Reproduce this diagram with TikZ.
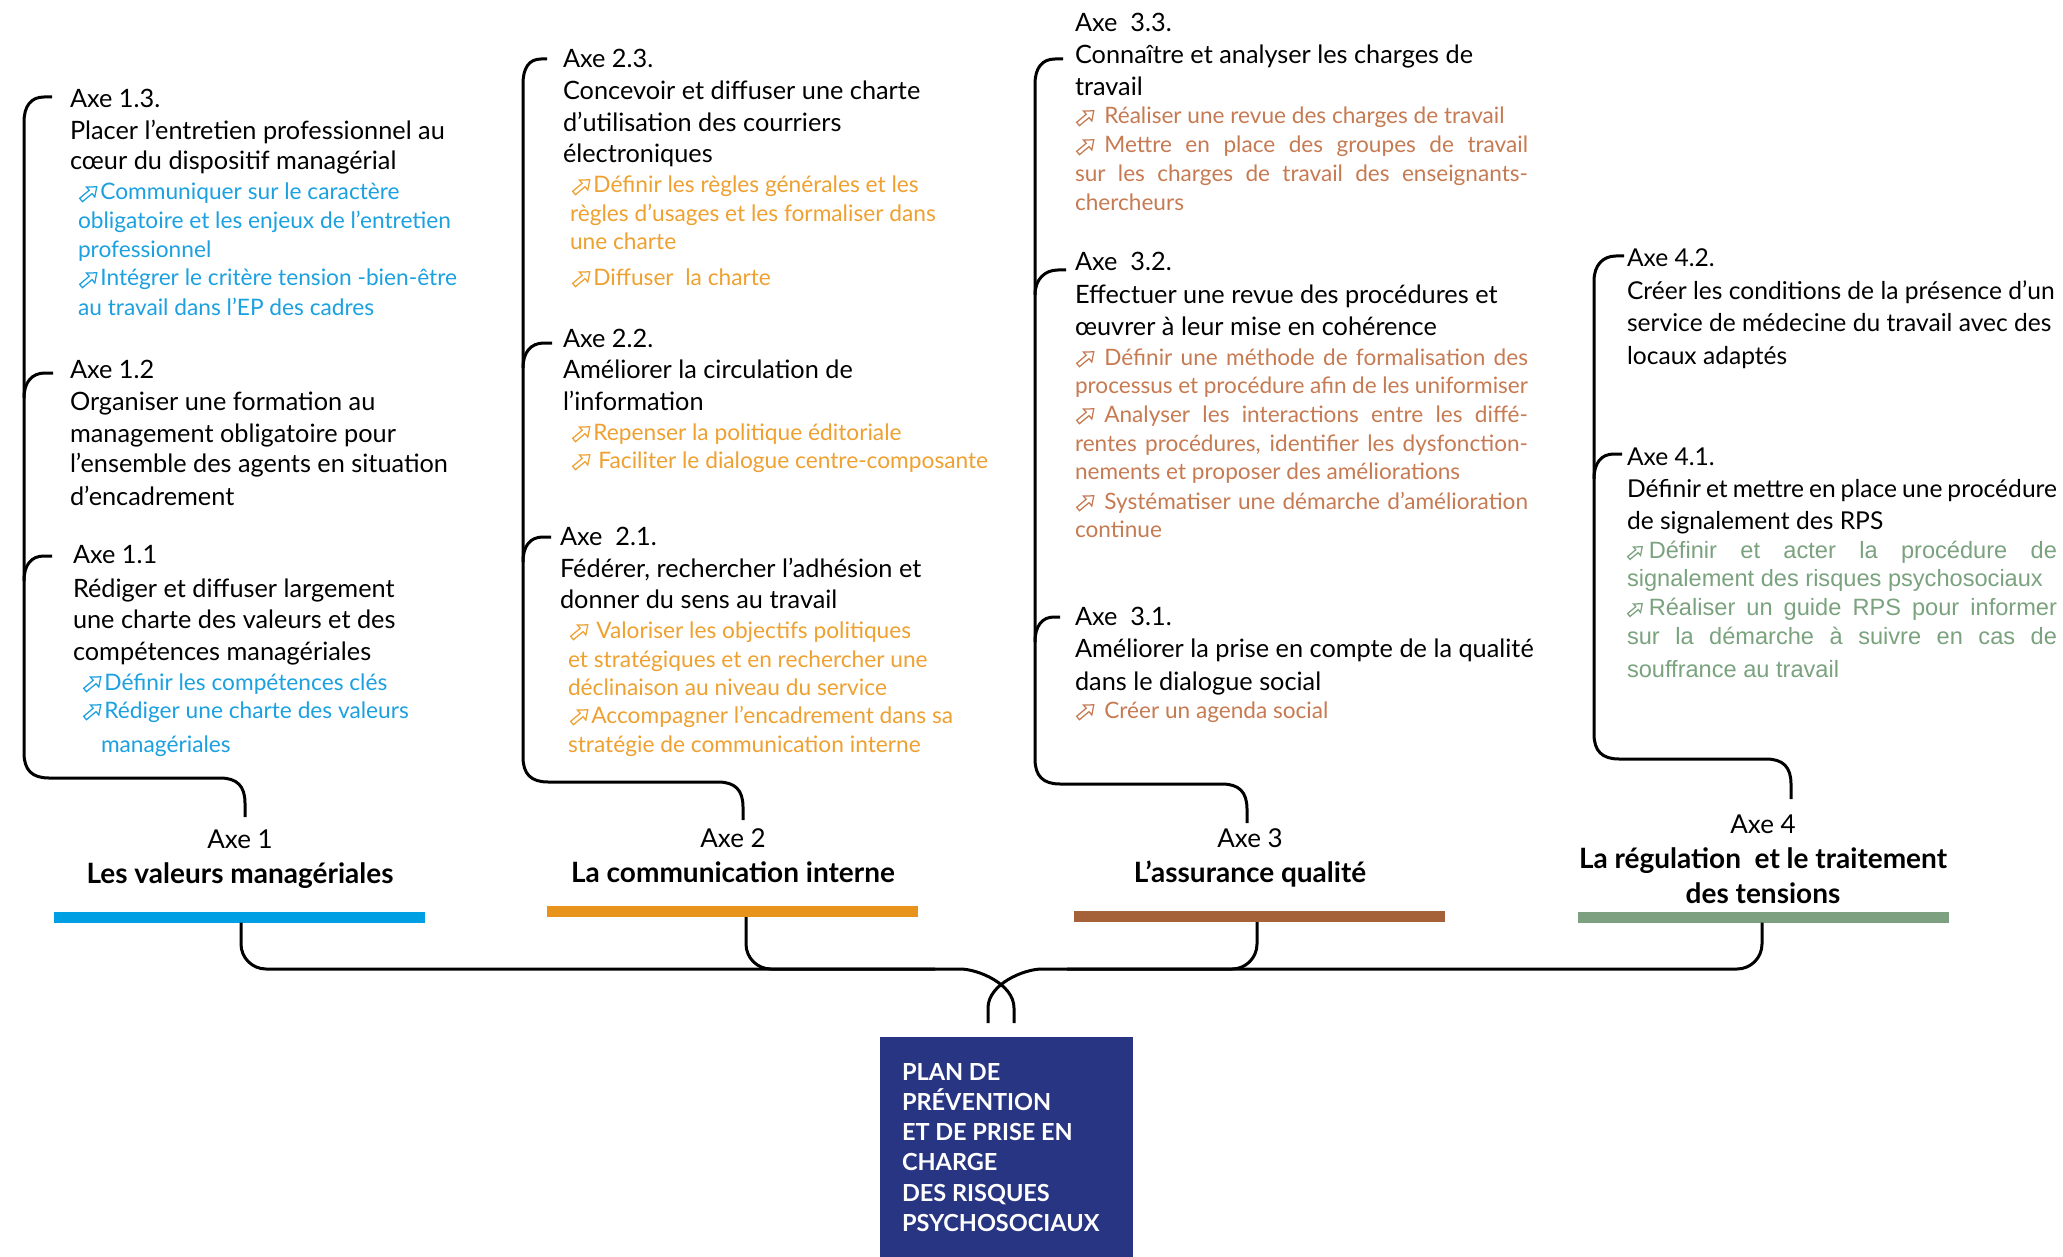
\documentclass[tikz,border=0pt]{standalone}
\usepackage{fontspec}
\setmainfont{Lato}
\newfontfamily\arialf{Liberation Sans}
\definecolor{tblue}{RGB}{27,160,224}
\definecolor{torange}{RGB}{238,160,48}
\definecolor{tbrown}{RGB}{198,122,82}
\definecolor{tgreen}{RGB}{122,162,126}
\definecolor{bblue}{RGB}{0,158,226}
\definecolor{borange}{RGB}{232,148,28}
\definecolor{bbrown}{RGB}{165,97,56}
\definecolor{bgreen}{RGB}{125,160,128}
\definecolor{navy}{RGB}{40,53,130}
\newcounter{ln}
\newcommand\T[4]{\stepcounter{ln}\node[#1] (t\arabic{ln}) at (#2,#3) {#4};}
\newcommand\ico[2][1]{\tikz[baseline=0pt,x=#1pt,y=#1pt]\draw[#2,line width=1.25pt,rotate=40,line join=miter] (0,-2.2) -- (12.5,-2.2) -- (12.5,-6.5) -- (20.5,0) -- (12.5,6.5) -- (12.5,2.2) -- (0,2.2) -- cycle;}
\begin{document}
\begin{tikzpicture}[x=1pt,y=-1pt,
  tx/.style={anchor=base west,inner sep=0pt,outer sep=0pt},
  hd/.style={tx,font=\fontsize{25.3}{30}\selectfont},
  hdf/.style={tx,font=\fontsize{24.6}{30}\selectfont},
  cb/.style={tx,text=tblue,font=\fontsize{22.7}{28}\selectfont},
  co/.style={tx,text=torange,font=\fontsize{22.7}{28}\selectfont},
  cr/.style={tx,text=tbrown,font=\fontsize{22.6}{28}\selectfont},
  cg/.style={tx,text=tgreen,font=\arialf\fontsize{23.6}{28}\selectfont},
  ax/.style={anchor=base,inner sep=0pt,font=\fontsize{26}{30}\selectfont},
  axb/.style={anchor=base,inner sep=0pt,font=\bfseries\fontsize{28}{30}\selectfont},
  bx/.style={tx,text=white,font=\bfseries\fontsize{23.5}{30}\selectfont},
  bar/.style={inner sep=0pt,minimum width=371,minimum height=11},
  br/.style={line width=3pt,line cap=butt}]
\useasboundingbox (0,0) rectangle (2063,1257);

% ---------- Axe 1 ----------
\T{hd}{70}{108}{Axe 1.3.}
\T{hd}{70}{140}{Placer l’entretien professionnel au}
\T{hd}{70}{170}{cœur du dispositif managérial}
\T{cb}{79}{200}{\ico{tblue}\hspace{3pt}Communiquer sur le caractère}
\T{cb}{78}{229}{obligatoire et les enjeux de l’entretien}
\T{cb}{78}{258}{professionnel}
\T{cb}{79}{286}{\ico{tblue}\hspace{3pt}Intégrer le critère tension -bien-être}
\T{cb}{78}{315}{au travail dans l’EP des cadres}
\T{hd}{70}{378}{Axe 1.2}
\T{hd}{70}{410}{Organiser une formation au}
\T{hd}{70}{442}{management obligatoire pour}
\T{hd}{70}{472}{l’ensemble des agents en situation}
\T{hd}{70}{505}{d’encadrement}
\T{hd}{73}{563}{Axe 1.1}
\T{hd}{73}{597}{Rédiger et diffuser largement}
\T{hd}{73}{628}{une charte des valeurs et des}
\T{hd}{73}{660}{compétences managériales}
\T{cb}{83}{690}{\ico{tblue}\hspace{3pt}Définir les compétences clés}
\T{cb}{83}{718}{\ico{tblue}\hspace{3pt}Rédiger une charte des valeurs}
\T{cb}{101}{752}{managériales}
\node[ax] (ax1) at (240,848) {Axe 1};
\node[axb] (hb1) at (240,883) {Les valeurs managériales};
\node[bar,fill=bblue] (b1) at (239.5,917) {};

% ---------- Axe 2 ----------
\T{hd}{563}{68}{Axe 2.3.}
\T{hd}{563}{100}{Concevoir et diffuser une charte}
\T{hd}{563}{132}{d’utilisation des courriers}
\T{hd}{563}{163}{électroniques}
\T{co}{572}{193}{\ico{torange}\hspace{3pt}Définir les règles générales et les}
\T{co}{570}{222}{règles d’usages et les formaliser dans}
\T{co}{570}{250}{une charte}
\T{co}{572}{285}{\ico{torange}\hspace{3pt}Diffuser\ \ la charte}
\T{hd}{563}{347}{Axe 2.2.}
\T{hd}{563}{378}{Améliorer la circulation de}
\T{hd}{563}{410}{l’information}
\T{co}{572}{440}{\ico{torange}\hspace{3pt}Repenser la politique éditoriale}
\T{co}{572}{468}{\ico{torange}\hspace{8pt}Faciliter le dialogue centre-composante}
\T{hd}{560}{545}{Axe\ \ 2.1.}
\T{hd}{560}{577}{Fédérer, rechercher l’adhésion et}
\T{hd}{560}{608}{donner du sens au travail}
\T{co}{570}{638}{\ico{torange}\hspace{8pt}Valoriser les objectifs politiques}
\T{co}{568}{667}{et stratégiques et en rechercher une}
\T{co}{568}{695}{déclinaison au niveau du service}
\T{co}{570}{723}{\ico{torange}\hspace{3pt}Accompagner l’encadrement dans sa}
\T{co}{568}{752}{stratégie de communication interne}
\node[ax] (ax2) at (733,847) {Axe 2};
\node[axb] (hb2) at (733,882) {La communication interne};
\node[bar,fill=borange] (b2) at (732.5,911.5) {};

% ---------- Axe 3 ----------
\T{hd}{1075}{32}{Axe\ \ 3.3.}
\T{hd}{1075}{64}{Connaître et analyser les charges de}
\T{hd}{1075}{96}{travail}
\T{cr}{1076}{124}{\ico{tbrown}\hspace{10pt}Réaliser une revue des charges de travail}
\T{cr}{1076}{153}{\hbox to 452pt{\ico{tbrown}\hspace{10pt}Mettre en place des groupes de travail}}
\T{cr}{1075}{182}{\hbox to 453pt{sur les charges de travail des enseignants-}}
\T{cr}{1075}{211}{chercheurs}
\T{hd}{1075}{271}{Axe\ \ 3.2.}
\T{hd}{1075}{303}{Effectuer une revue des procédures et}
\T{hd}{1075}{335}{œuvrer à leur mise en cohérence}
\T{cr}{1076}{365}{\hbox to 452pt{\ico{tbrown}\hspace{10pt}Définir une méthode de formalisation des}}
\T{cr}{1075}{393}{\hbox to 453pt{processus et procédure afin de les uniformiser}}
\T{cr}{1076}{422}{\hbox to 452pt{\ico{tbrown}\hspace{10pt}Analyser les interactions entre les diffé-}}
\T{cr}{1075}{451}{\hbox to 453pt{rentes procédures, identifier les dysfonction-}}
\T{cr}{1075}{479}{nements et proposer des améliorations}
\T{cr}{1076}{509}{\hbox to 452pt{\ico{tbrown}\hspace{10pt}Systématiser une démarche d’amélioration}}
\T{cr}{1075}{537}{continue}
\T{hd}{1075}{625}{Axe\ \ 3.1.}
\T{hd}{1075}{657}{Améliorer la prise en compte de la qualité}
\T{hd}{1075}{690}{dans le dialogue social}
\T{cr}{1076}{718}{\ico{tbrown}\hspace{10pt}Créer un agenda social}
\node[ax] (ax3) at (1250,847) {Axe 3};
\node[axb] (hb3) at (1250,882) {L’assurance qualité};
\node[bar,fill=bbrown] (b3) at (1259.5,916.5) {};

% ---------- Axe 4 ----------
\T{hdf}{1627}{267}{Axe 4.2.}
\T{hdf}{1627}{299}{Créer les conditions de la présence d’un}
\T{hdf}{1627}{331}{service de médecine du travail avec des}
\T{hdf}{1627}{364}{locaux adaptés}
\T{hdf}{1627}{465}{Axe 4.1.}
\T{hdf}{1627}{497}{\hbox to 430pt{Définir et mettre en place une procédure}}
\T{hdf}{1627}{529}{de signalement des RPS}
\T{cg}{1627}{558}{\hbox to 430pt{\ico[0.85]{tgreen}\hspace{6pt}Définir et acter la procédure de}}
\T{cg}{1627}{586}{signalement des risques psychosociaux}
\T{cg}{1627}{615}{\hbox to 430pt{\ico[0.85]{tgreen}\hspace{6pt}Réaliser un guide RPS pour informer}}
\T{cg}{1627}{644}{\hbox to 430pt{sur la démarche à suivre en cas de}}
\T{cg}{1627}{677}{souffrance au travail}
\node[ax] (ax4) at (1763,833) {Axe 4};
\node[axb] (hb4) at (1763,868) {La régulation\ \ et le traitement};
\node[axb] (hb4b) at (1763,903) {des tensions};
\node[bar,fill=bgreen] (b4) at (1763.5,917) {};

% ---------- central box ----------
\node[fill=navy,anchor=north west,inner sep=0pt,minimum width=253,minimum height=220] (box) at (880,1037) {};
\T{bx}{902}{1080}{PLAN DE}
\T{bx}{902}{1110}{PRÉVENTION}
\T{bx}{902}{1140}{ET DE PRISE EN}
\T{bx}{902}{1170}{CHARGE}
\T{bx}{902}{1201}{DES RISQUES}
\T{bx}{902}{1231}{PSYCHOSOCIAUX}

% ---------- brackets ----------
\draw[br] (52,97) -- (44,97) .. controls (31,97) and (24,106) .. (24,122) -- (24,753) .. controls (24,770) and (32,778) .. (49,778) -- (220,778) .. controls (237,778) and (245,786) .. (245,803) -- (245,817);
\draw[br] (53,373) -- (45,373) .. controls (32,373) and (24,382) .. (24,398);
\draw[br] (52,556) -- (44,556) .. controls (31,556) and (24,565) .. (24,581);

\draw[br] (547,59) -- (541,59) .. controls (529,59) and (523,68) .. (523,84) -- (523,757) .. controls (523,774) and (531,782) .. (548,782) -- (718,782) .. controls (735,782) and (743,790) .. (743,807) -- (743,820);
\draw[br] (552,343) -- (544,343) .. controls (531,343) and (523,352) .. (523,368);
\draw[br] (551,537) -- (543,537) .. controls (530,537) and (523,546) .. (523,562);

\draw[br] (1063,59) -- (1055,59) .. controls (1042,59) and (1035,68) .. (1035,84) -- (1035,759) .. controls (1035,776) and (1043,784) .. (1060,784) -- (1222,784) .. controls (1239,784) and (1247,792) .. (1247,809) -- (1247,823);
\draw[br] (1066,270) -- (1058,270) .. controls (1045,270) and (1035,279) .. (1035,295);
\draw[br] (1060,617) -- (1054,617) .. controls (1042,617) and (1035,626) .. (1035,642);

\draw[br] (1624,256) -- (1616,256) .. controls (1603,256) and (1594,265) .. (1594,281) -- (1594,734) .. controls (1594,751) and (1602,759) .. (1619,759) -- (1766,759) .. controls (1783,759) and (1791,767) .. (1791,784) -- (1791,799);
\draw[br] (1622,454) -- (1614,454) .. controls (1601,454) and (1594,463) .. (1594,479);

% ---------- bottom connectors ----------
\coordinate (jl) at (935,969);
\coordinate (jr) at (1067,969);
\draw[br] ([xshift=1.5pt]b1.south) [rounded corners=25] |- (jl) [sharp corners] .. controls (978,969) and (1014,984) .. (1014,1008) -- (1014,1023);
\draw[br] ([xshift=13.5pt]b2.south) [rounded corners=25] |- (jl);
\draw[br] ([xshift=-1.5pt]b4.south) [rounded corners=25] |- (jr) [sharp corners] .. controls (1024,969) and (988,984) .. (988,1008) -- (988,1023);
\draw[br] ([xshift=-2.5pt]b3.south) [rounded corners=25] |- (jr);
\end{tikzpicture}
\end{document}
